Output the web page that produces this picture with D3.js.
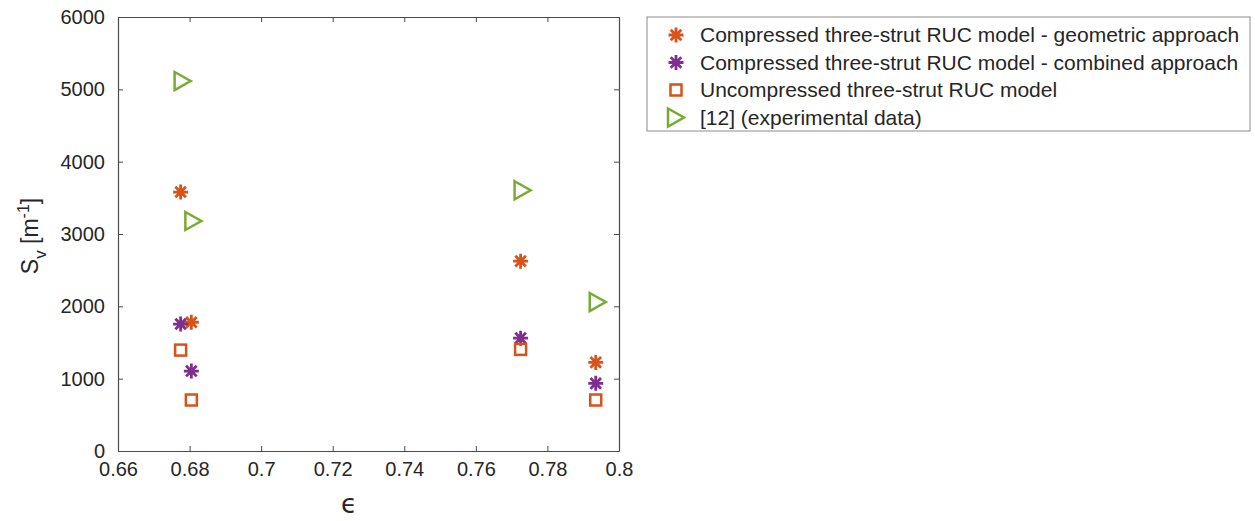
<!DOCTYPE html>
<html><head><meta charset="utf-8">
<script src="https://cdn.jsdelivr.net/npm/d3@7"></script>
<style>body{margin:0;background:#fff;} text{font-family:"Liberation Sans",Arial,sans-serif;}</style>
</head><body><svg id="c" width="1255" height="521"></svg>
<script>
const eps = [0.6775, 0.6805, 0.7725, 0.7935];
const geometric = [3580, 1780, 2625, 1225];
const combined = [1755, 1105, 1560, 935];
const uncompressed = [1395, 705, 1405, 705];
const experimental = [5115, 3180, 3605, 2060];
const seriesNames = ["Compressed three-strut RUC model - geometric approach","Compressed three-strut RUC model - combined approach","Uncompressed three-strut RUC model","[12] (experimental data)"];
const xTicks = [0.66,0.68,0.7,0.72,0.74,0.76,0.78,0.8];
const yTicks = [0,1000,2000,3000,4000,5000,6000];

const svg = d3.select("#c");
const L=118, R=619, T=17, B=451;
const x = d3.scaleLinear().domain([0.66,0.8]).range([L,R]);
const y = d3.scaleLinear().domain([0,6000]).range([B,T]);
const axisCol="#4a4a4a";
const ORANGE="#D95319", PURPLE="#7E2F8E", GREEN="#77AC30";

const gx = svg.append("g").attr("transform",`translate(0,${B})`).call(d3.axisBottom(x).tickValues(xTicks).tickFormat(d=>String(+d.toFixed(2))).tickSizeInner(-5).tickSizeOuter(0).tickPadding(11));
const gxt = svg.append("g").attr("transform",`translate(0,${T})`).call(d3.axisTop(x).tickValues(xTicks).tickFormat("").tickSizeInner(-5).tickSizeOuter(0));
const gy = svg.append("g").attr("transform",`translate(${L},0)`).call(d3.axisLeft(y).tickValues(yTicks).tickFormat(d3.format("d")).tickSizeInner(-5).tickSizeOuter(0).tickPadding(13));
const gyr = svg.append("g").attr("transform",`translate(${R},0)`).call(d3.axisRight(y).tickValues(yTicks).tickFormat("").tickSizeInner(-5).tickSizeOuter(0));
[gx,gxt,gy,gyr].forEach(g=>{g.select(".domain").attr("stroke",axisCol).attr("stroke-width",1.2);
 g.selectAll(".tick line").attr("stroke",axisCol);
 g.selectAll("text").attr("fill","#262626").style("font-size","20px").style("font-family","'Liberation Sans',Arial,sans-serif");});

// labels
svg.append("text").attr("x",349).attr("y",513).attr("text-anchor","middle").style("font-size","26px").attr("fill","#262626").style("font-family","'DejaVu Sans',sans-serif").text("ϵ");
const yl = svg.append("text").attr("transform","translate(38,236) rotate(-90)").attr("text-anchor","middle").style("font-size","23px").attr("fill","#262626");
yl.append("tspan").text("S");
yl.append("tspan").attr("dy",8).style("font-size","17px").text("v");
yl.append("tspan").attr("dy",-8).text(" [m");
yl.append("tspan").attr("dy",-9).style("font-size","16px").text("-1");
yl.append("tspan").attr("dy",9).text("]");

function star(g,cx,cy,col){
  const r=7.5;
  let p="";
  for(let i=0;i<4;i++){const a=i*Math.PI/4;p+=`M${cx-r*Math.cos(a)},${cy-r*Math.sin(a)}L${cx+r*Math.cos(a)},${cy+r*Math.sin(a)}`;}
  g.append("path").attr("d",p).attr("stroke",col).attr("stroke-width",2.8).attr("fill","none");
}
function square(g,cx,cy,col){
  g.append("rect").attr("x",cx-5.5).attr("y",cy-5.5).attr("width",11).attr("height",11).attr("fill","none").attr("stroke",col).attr("stroke-width",2.5);
}
function tri(g,cx,cy,col){
  g.append("path").attr("d",`M${cx-6},${cy-9}L${cx+10},${cy}L${cx-6},${cy+9}Z`).attr("fill","none").attr("stroke",col).attr("stroke-width",2.5).attr("stroke-linejoin","miter");
}
const plot = svg.append("g");
const series=[{v:geometric,f:star,c:ORANGE},{v:combined,f:star,c:PURPLE},{v:uncompressed,f:square,c:ORANGE},{v:experimental,f:tri,c:GREEN}];
series.forEach(s=>s.v.forEach((val,i)=>s.f(plot,x(eps[i]),y(val),s.c)));

// legend
const lg = svg.append("g");
lg.append("rect").attr("x",647).attr("y",17).attr("width",603).attr("height",114).attr("fill","#fff").attr("stroke","#8c8c8c").attr("stroke-width",1);
series.forEach((s,i)=>{
  const cy=35+i*27.5;
  s.f(lg, s.f===tri?674:676, cy, s.c);
  lg.append("text").attr("x",700).attr("y",cy+7).style("font-size","21px").attr("fill","#262626").text(seriesNames[i]);
});
</script></body></html>
